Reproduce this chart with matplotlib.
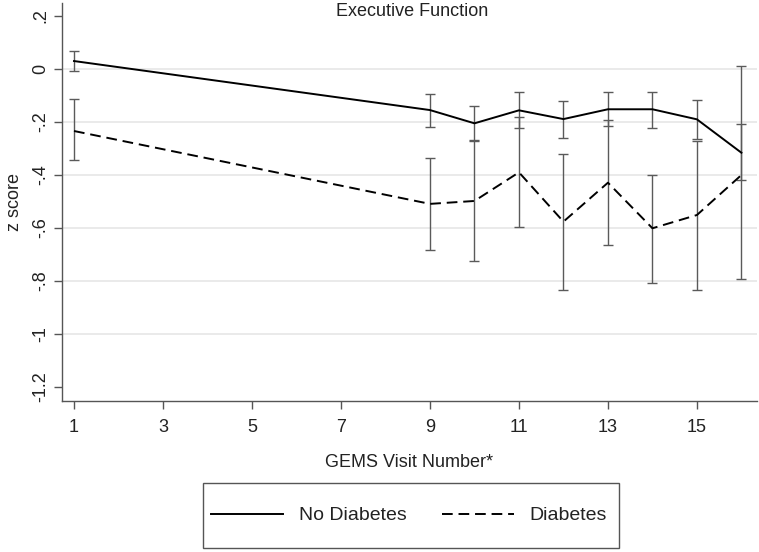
import numpy as np
import matplotlib
matplotlib.use("Agg")
import matplotlib.pyplot as plt
from matplotlib.patches import Rectangle

plt.rcParams['font.family'] = ['Liberation Sans', 'DejaVu Sans']

# GEMS visits
visits = [1, 9, 10, 11, 12, 13, 14, 15, 16]

# No diabetes: mean and CI
nodiab_mean = [0.03, -0.155, -0.205, -0.156, -0.189, -0.152, -0.152, -0.19, -0.316]
nodiab_lo = [-0.008, -0.219, -0.268, -0.222, -0.259, -0.216, -0.224, -0.263, -0.42]
nodiab_hi = [0.068, -0.094, -0.141, -0.088, -0.121, -0.088, -0.088, -0.118, -0.209]

# Diabetes: mean and CI
diab_mean = [-0.234, -0.509, -0.498, -0.39, -0.576, -0.429, -0.601, -0.551, -0.40]
diab_lo = [-0.345, -0.683, -0.725, -0.597, -0.834, -0.664, -0.809, -0.834, -0.794]
diab_hi = [-0.114, -0.337, -0.27, -0.18, -0.32, -0.194, -0.399, -0.272, 0.012]

xticks = [1, 3, 5, 7, 9, 11, 13, 15]
yticks = [0.2, 0, -0.2, -0.4, -0.6, -0.8, -1.0, -1.2]
ytick_labels = ['.2', '0', '-.2', '-.4', '-.6', '-.8', '-1', '-1.2']
grid_vals = [0, -0.2, -0.4, -0.6, -0.8, -1.0]

W, H = 759, 552
fig = plt.figure(figsize=(W / 100, H / 100), dpi=100)
ax = fig.add_axes([62 / W, 1 - 401 / H, (757 - 62) / W, (401 - 3) / H])

for g in grid_vals:
    ax.axhline(g, color='#e6e6e6', lw=1.2, zorder=0)

ecol = '#5a5a5a'
nd_m = np.array(nodiab_mean)
d_m = np.array(diab_mean)
ax.errorbar(visits, nd_m, yerr=[nd_m - np.array(nodiab_lo), np.array(nodiab_hi) - nd_m],
            fmt='none', ecolor=ecol, elinewidth=1.0, capsize=3.5, capthick=1.0, zorder=2)
ax.errorbar(visits, d_m, yerr=[d_m - np.array(diab_lo), np.array(diab_hi) - d_m],
            fmt='none', ecolor=ecol, elinewidth=1.0, capsize=3.5, capthick=1.0, zorder=2)
ax.plot(visits, nd_m, color='black', lw=1.4, label='No Diabetes', zorder=3)
ax.plot(visits, d_m, color='black', lw=1.4, dashes=(5.5, 3), label='Diabetes', zorder=3)

ax.set_xlim(0.73, 16.35)
ax.set_ylim(-1.2528, 0.249)
ax.set_xticks(xticks)
ax.set_yticks(yticks)
ax.set_yticklabels(ytick_labels, rotation=90, va='center')

for s in ['top', 'right']:
    ax.spines[s].set_visible(False)
for s in ['left', 'bottom']:
    ax.spines[s].set_color('#555555')
    ax.spines[s].set_linewidth(1.0)
ax.tick_params(axis='both', direction='out', length=6, width=1.0, color='#555555',
               labelsize=13, labelcolor='#222222')
ax.tick_params(axis='x', pad=7)
ax.tick_params(axis='y', pad=3)

ax.set_xlabel('GEMS Visit Number*', fontsize=13, color='#222222', labelpad=13)
ax.set_ylabel('z score', fontsize=13, color='#222222', labelpad=7)
fig.text(412 / W, 1 - 11 / H, 'Executive Function', fontsize=13, color='#222222',
         ha='center', va='center')

handles, labels = ax.get_legend_handles_labels()
fig.legend(handles, labels, loc='center', bbox_to_anchor=(409 / W, 1 - 515.5 / H),
           ncol=2, frameon=False, fontsize=14, handlelength=3.7, handletextpad=0.8,
           columnspacing=1.8, labelcolor='#222222')
fig.patches.append(Rectangle((203 / W, 1 - 548 / H), 416 / W, 65 / H,
                             transform=fig.transFigure, fill=False,
                             edgecolor='#555555', lw=1.0))

fig.savefig('out.png', dpi=100, facecolor='white')
